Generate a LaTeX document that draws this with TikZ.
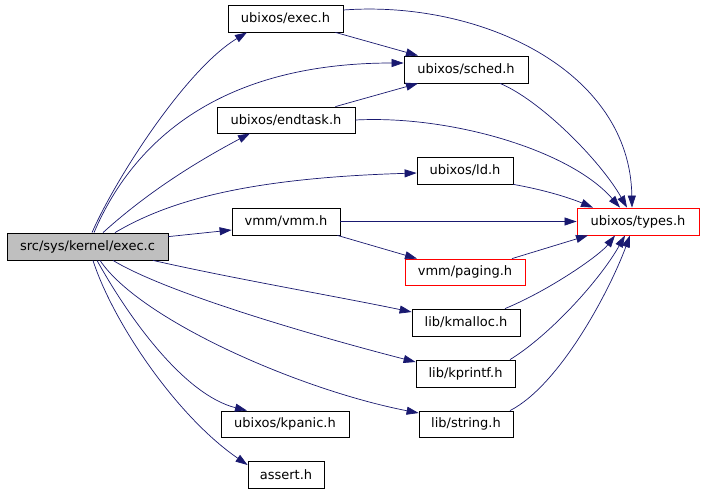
\documentclass[tikz,border=0pt]{standalone}
\usepackage{fontspec}
\setmainfont{DejaVu Sans}
\usetikzlibrary{arrows.meta}
\definecolor{midnight}{HTML}{191970}
\definecolor{boxgray}{HTML}{BFBFBF}
\begin{document}
\begin{tikzpicture}[x=1pt,y=-1pt,
  box/.style={draw=black, line width=0.8pt, inner sep=0pt, minimum height=27pt,
    font=\fontsize{13}{15}\selectfont},
  redbox/.style={box, draw=red},
  edge/.style={draw=midnight, line width=0.7pt, -{Triangle[length=12pt,width=8pt]}}]
\useasboundingbox (0,0) rectangle (704,493);
\fill[white] (0,0) rectangle (704,493);
% nodes
\node[box, fill=boxgray, minimum width=161pt] (src) at (87.5,246.5) {src/sys/kernel/exec.c};
\node[box, minimum width=115pt] (exech) at (285.5,18.5) {ubixos/exec.h};
\node[box, minimum width=124pt] (sched) at (466,69.5) {ubixos/sched.h};
\node[box, minimum width=138pt, minimum height=26pt] (endtask) at (286,120) {ubixos/endtask.h};
\node[box, minimum width=96pt] (ld) at (465,170.5) {ubixos/ld.h};
\node[redbox, minimum width=122pt] (types) at (638,221.5) {ubixos/types.h};
\node[box, minimum width=108pt] (vmm) at (286,221.5) {vmm/vmm.h};
\node[redbox, minimum width=120pt, minimum height=26pt] (paging) at (465,272) {vmm/paging.h};
\node[box, minimum width=108pt] (kmalloc) at (466,322.5) {lib/kmalloc.h};
\node[box, minimum width=99pt] (kprintf) at (465.5,373.5) {lib/kprintf.h};
\node[box, minimum width=94pt, minimum height=26pt] (string) at (466,424) {lib/string.h};
\node[box, minimum width=128pt, minimum height=26pt] (kpanic) at (285,424) {ubixos/kpanic.h};
\node[box, minimum width=76pt] (assert) at (286,474.5) {assert.h};
% edges from src
\draw[edge] ([xshift=4.5pt]src.north) .. controls (115,180) and (185,70) .. ([xshift=-38.5pt]exech.south);
\draw[edge] ([xshift=6.5pt]src.north) .. controls (125,160) and (200,63) .. ([yshift=6.5pt]sched.west);
\draw[edge] ([xshift=15.5pt]src.north) .. controls (150,190) and (200,160) .. ([xshift=-36pt]endtask.south);
\draw[edge] ([xshift=27.5pt]src.north) .. controls (170,200) and (250,178) .. ([yshift=-2.5pt]ld.west);
\draw[edge] ([yshift=-4pt]src.north east) -- ([yshift=-8.5pt]vmm.west);
\draw[edge] ([xshift=65.5pt]src.south) .. controls (230,278) and (340,297) .. ([yshift=10.5pt]kmalloc.west);
\draw[edge] ([xshift=25.5pt]src.south) .. controls (170,295) and (330,340) .. ([yshift=11.5pt]kprintf.west);
\draw[edge] ([xshift=12.5pt]src.south) .. controls (140,320) and (300,390) .. ([yshift=11pt]string.west);
\draw[edge] ([xshift=9.5pt]src.south) .. controls (130,320) and (185,395) .. ([xshift=-38pt]kpanic.north);
\draw[edge] ([xshift=5.5pt]src.south) .. controls (112,320) and (175,415) .. ([yshift=9.5pt]assert.west);
% other edges
\draw[edge] ([xshift=-8pt]exech.south east) -- ([xshift=-48pt]sched.north);
\draw[edge] ([xshift=-20pt]endtask.north east) -- ([xshift=-48pt]sched.south);
\draw[edge] ([yshift=8.5pt]exech.east) .. controls (480,0) and (630,70) .. ([xshift=-6pt]types.north);
\draw[edge] (endtask.east) .. controls (450,115) and (570,150) .. ([xshift=-18pt]types.north);
\draw[edge] ([xshift=34pt]sched.south) .. controls (540,100) and (600,160) .. ([xshift=-11pt]types.north);
\draw[edge] (ld.south east) .. controls (545,190) and (570,198) .. ([xshift=-45pt]types.north);
\draw[edge] (vmm.east) -- (types.west);
\draw[edge] ([xshift=-3pt]vmm.south east) -- ([xshift=-48pt]paging.north);
\draw[edge] ([xshift=47pt]paging.north) -- ([xshift=-50pt]types.south);
\draw[edge] ([xshift=39pt]kmalloc.north) .. controls (550,290) and (600,255) .. ([xshift=-23pt]types.south);
\draw[edge] ([xshift=44.5pt]kprintf.north) .. controls (550,335) and (600,280) .. ([xshift=-13pt]types.south);
\draw[edge] ([xshift=44pt]string.north) .. controls (560,385) and (610,290) .. ([xshift=-8pt]types.south);
\end{tikzpicture}
\end{document}
